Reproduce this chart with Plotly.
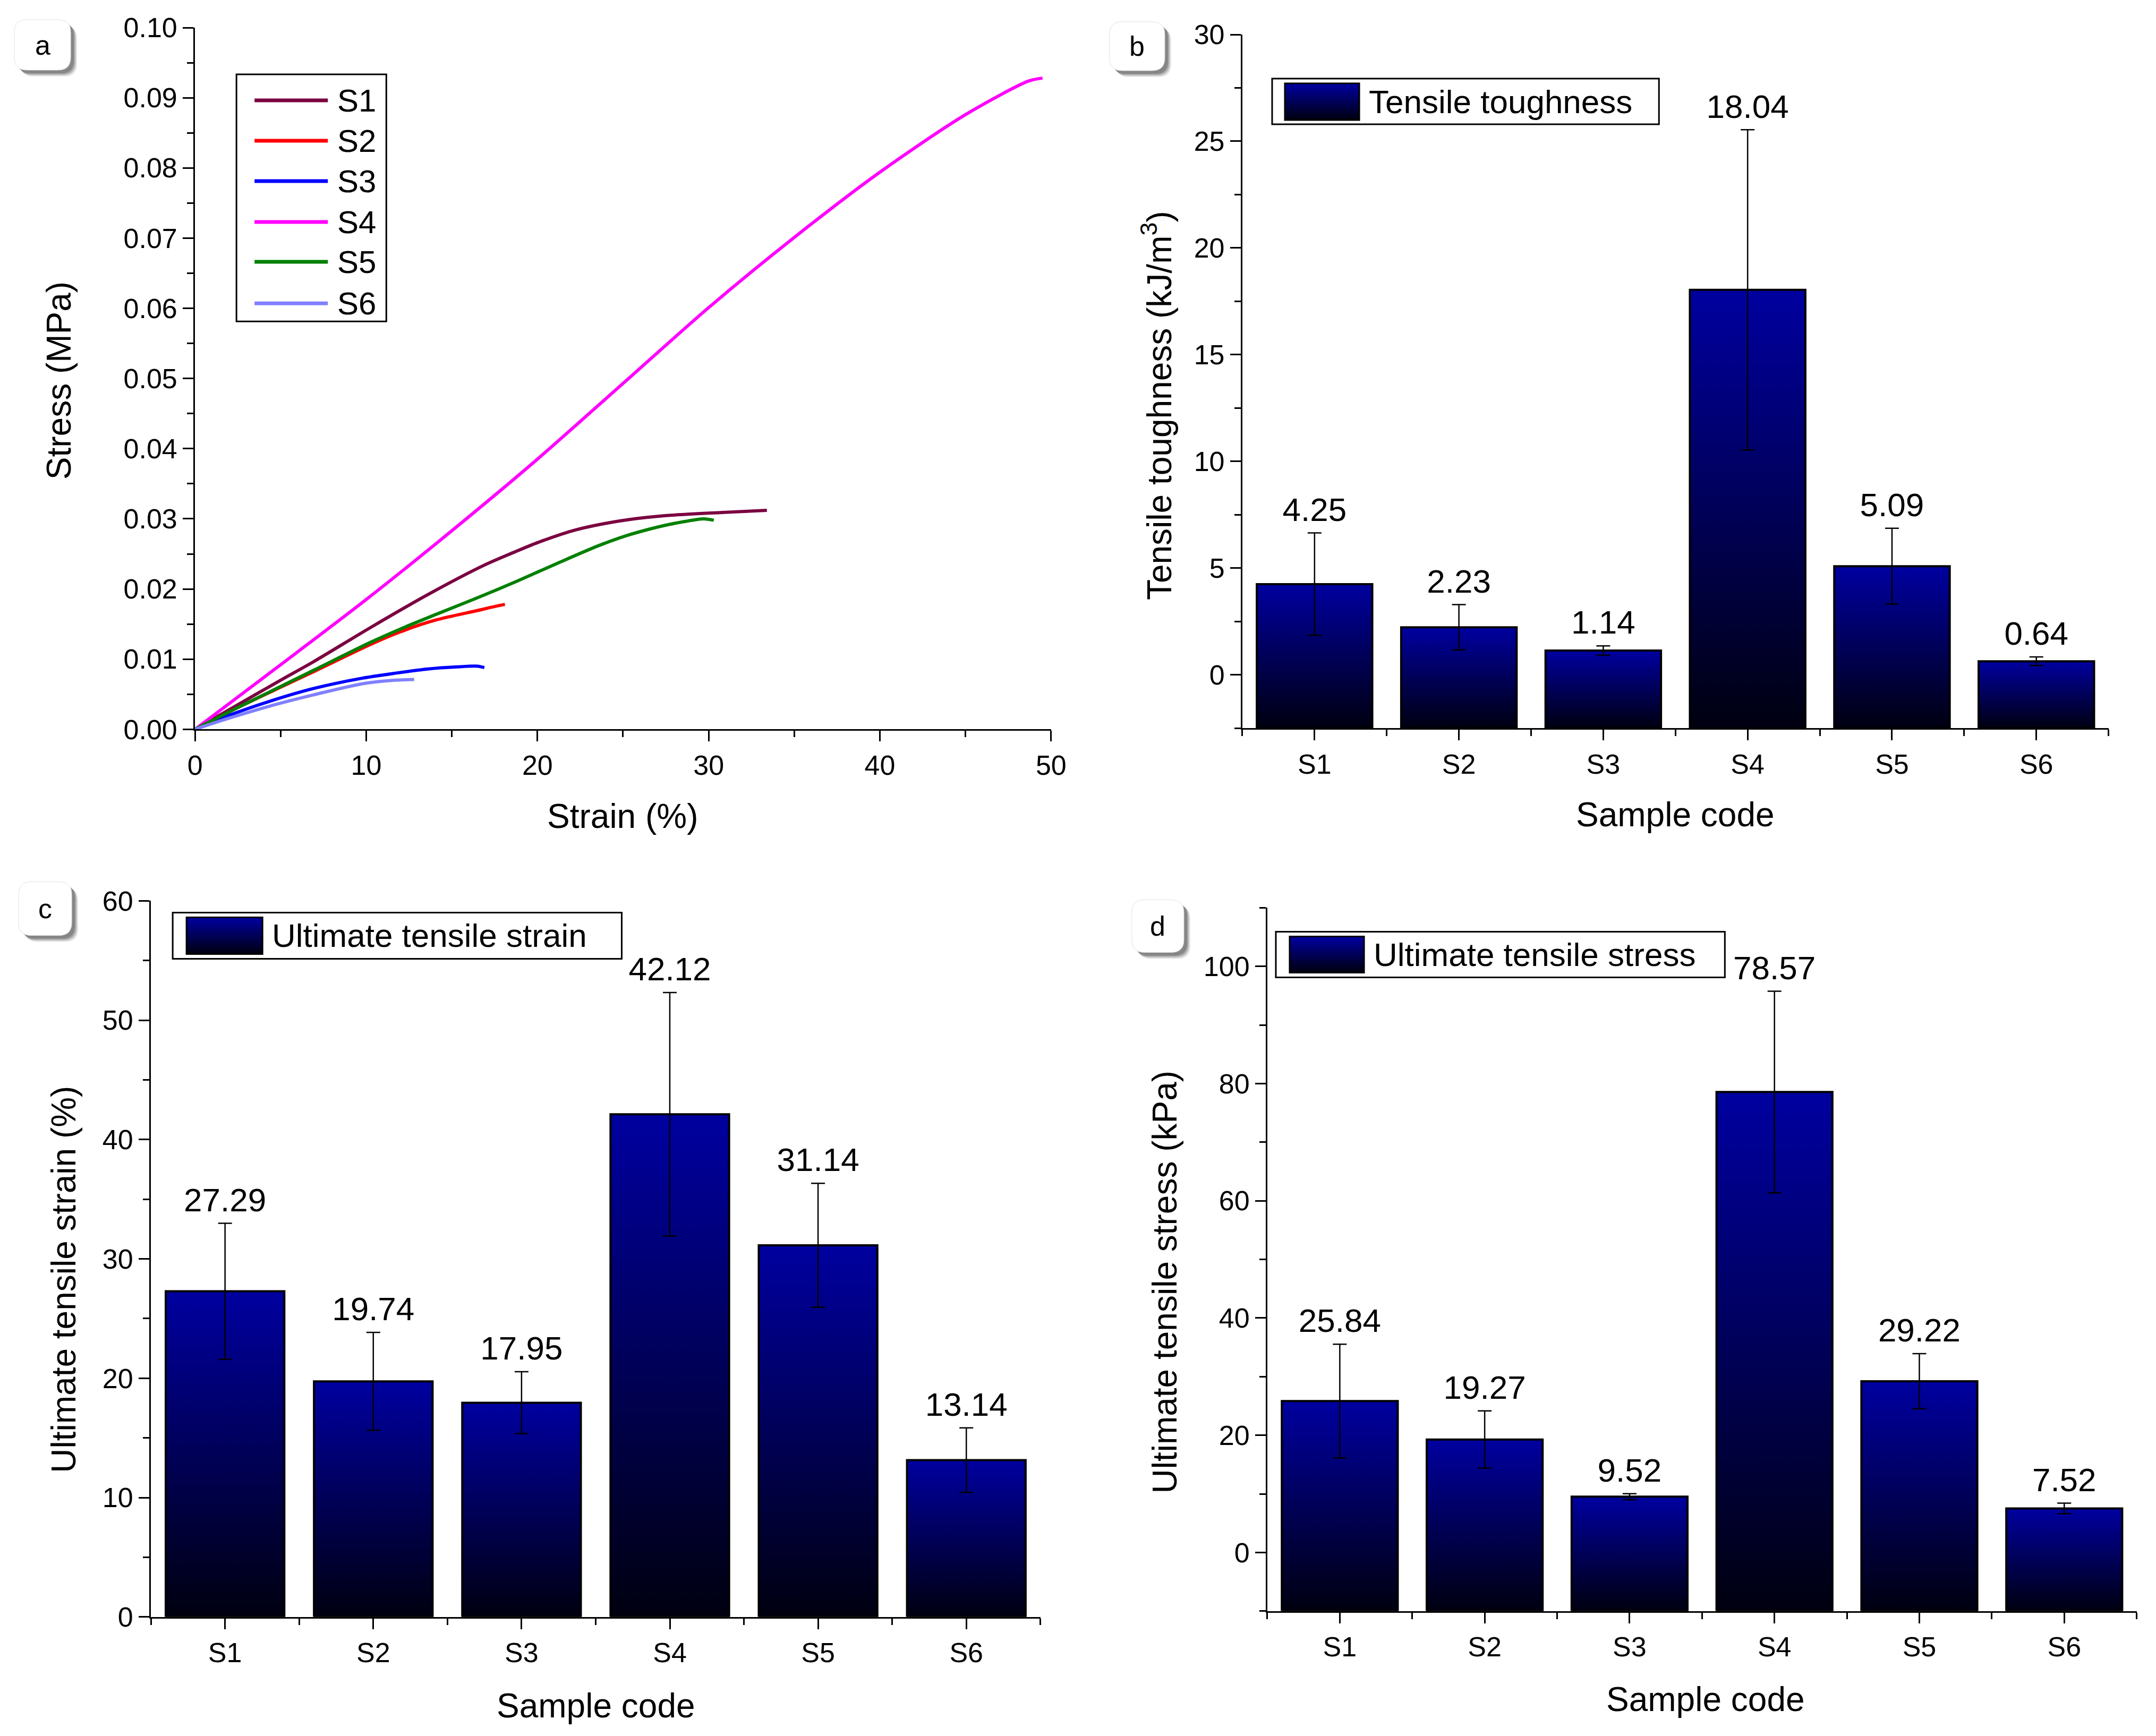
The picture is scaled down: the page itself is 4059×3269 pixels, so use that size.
import plotly.graph_objects as go

W, H = 4059, 3269
FONT = "Arial, Liberation Sans, sans-serif"

# ---------------- data: panel a (stress-strain curves) ----------------
s1_strain = [0, 2, 5, 6.9, 10.25, 13.6, 16.9, 18.6, 20.0, 22.2, 24.8, 27.2, 30.8, 33.4]
s1_stress = [0, 0.0028, 0.0070, 0.0096, 0.0145, 0.0192, 0.0234, 0.0252, 0.0266, 0.0284, 0.0297, 0.0304, 0.0309, 0.0312]
s2_strain = [0, 2, 5, 7, 10.25, 12, 14.1, 16.45, 17.5, 18.1]
s2_stress = [0, 0.0025, 0.0060, 0.0083, 0.0121, 0.0139, 0.0156, 0.0169, 0.0175, 0.0178]
s3_strain = [0, 2, 4.5, 6.9, 9.8, 11.7, 13.6, 15.3, 16.5, 16.9]
s3_stress = [0, 0.0020, 0.0041, 0.0058, 0.0073, 0.0080, 0.0086, 0.0089, 0.0090, 0.0088]
s4_strain = [0, 5, 10, 15, 20, 25, 30, 35, 40, 45, 48.7, 49.5]
s4_stress = [0, 0.0092, 0.0185, 0.0283, 0.0385, 0.0493, 0.0601, 0.0701, 0.0794, 0.0876, 0.0924, 0.0928]
s5_strain = [0, 2, 5, 7, 10.25, 12, 14.1, 16.45, 18.8, 21.2, 23.6, 25.2, 26.5, 27.7, 28.8, 29.7, 30.3]
s5_stress = [0, 0.0025, 0.0061, 0.0085, 0.0124, 0.0143, 0.0164, 0.0187, 0.0211, 0.0237, 0.0262, 0.0276, 0.0285, 0.0292, 0.0297, 0.0300, 0.0298]
s6_strain = [0, 2, 4.5, 6.9, 9.8, 11.7, 12.8]
s6_stress = [0, 0.0016, 0.0034, 0.0049, 0.0065, 0.0070, 0.0071]

curve_names = ["S1", "S2", "S3", "S4", "S5", "S6"]
curve_colors = ["#7B0041", "#FF0000", "#0000FF", "#FF00FF", "#008000", "#8080FF"]

# ---------------- data: bar panels ----------------
samples = ["S1", "S2", "S3", "S4", "S5", "S6"]
toughness = [4.25, 2.23, 1.14, 18.04, 5.09, 0.64]
toughness_err = [2.4, 1.06, 0.22, 7.5, 1.78, 0.2]
ult_strain = [27.29, 19.74, 17.95, 42.12, 31.14, 13.14]
ult_strain_err = [5.7, 4.1, 2.6, 10.2, 5.2, 2.7]
ult_stress = [25.84, 19.27, 9.52, 78.57, 29.22, 7.52]
ult_stress_err = [9.7, 4.9, 0.5, 17.2, 4.7, 0.9]

BAR_TOP = "#0000A0"
BAR_BOTTOM = "#000010"

# mapping from reference pixel positions to figure pixel positions
SX, OX = 0.989, 26.0
SY, OY = 0.982, 40.0


def pxx(x):
    return ((x - OX) / SX) / W


def pxy(y):
    return 1 - ((y - OY) / SY) / H


fig = go.Figure()

# ---------------- panel a ----------------
curves_x = [s1_strain, s2_strain, s3_strain, s4_strain, s5_strain, s6_strain]
curves_y = [s1_stress, s2_stress, s3_stress, s4_stress, s5_stress, s6_stress]
for name, col, xs, ys in zip(curve_names, curve_colors, curves_x, curves_y):
    fig.add_trace(go.Scatter(x=xs, y=ys, mode="lines", name=name,
                             line=dict(color=col, width=6, shape="spline", smoothing=0.8),
                             xaxis="x", yaxis="y", showlegend=False, hoverinfo="skip"))


# ---------------- bar panels ----------------
def add_bars(xa, ya, vals, errs, base):
    idx = list(range(1, len(vals) + 1))
    for i, v in zip(idx, vals):
        fig.add_trace(go.Scatter(
            x=[i - 0.4, i - 0.4, i + 0.4, i + 0.4, i - 0.4],
            y=[base, v, v, base, base],
            mode="lines", fill="toself",
            fillgradient=dict(type="vertical", colorscale=[[0, BAR_BOTTOM], [1, BAR_TOP]]),
            line=dict(color="black", width=4),
            xaxis=xa, yaxis=ya, showlegend=False, hoverinfo="skip"))
    fig.add_trace(go.Scatter(
        x=idx, y=vals, mode="markers",
        marker=dict(size=1, color="rgba(0,0,0,0)"),
        error_y=dict(type="data", array=errs, visible=True, color="black", thickness=2.5, width=13),
        xaxis=xa, yaxis=ya, showlegend=False, hoverinfo="skip"))
    fig.add_trace(go.Scatter(
        x=idx, y=[v + e for v, e in zip(vals, errs)], mode="markers+text",
        marker=dict(size=10, color="rgba(0,0,0,0)"),
        text=[f"{v:.2f}" for v in vals], textposition="top center",
        textfont=dict(size=62, color="black", family=FONT),
        xaxis=xa, yaxis=ya, showlegend=False, hoverinfo="skip", cliponaxis=False))


add_bars("x2", "y2", toughness, toughness_err, -2.5)
add_bars("x3", "y3", ult_strain, ult_strain_err, 0)
add_bars("x4", "y4", ult_stress, ult_stress_err, -10)

# ---------------- axes ----------------
common = dict(showline=True, linecolor="black", linewidth=3, ticks="outside", ticklen=20,
              tickwidth=3, tickcolor="black", showgrid=False, zeroline=False, mirror=False,
              tickfont=dict(size=52, color="black", family=FONT))


def lin_minor(d):
    return dict(dtick=d, ticks="outside", ticklen=12, tickwidth=3, tickcolor="black", showgrid=False)


cat_idx = list(range(1, len(samples) + 1))
cat_minor = dict(tickmode="array", tickvals=[i - 0.5 for i in cat_idx] + [len(samples) + 0.5],
                 ticks="outside", ticklen=12, tickwidth=3, tickcolor="black", showgrid=False)


def cat_axis(domain, anchor):
    return dict(common, domain=domain, anchor=anchor, range=[0.5, len(samples) + 0.5],
                tickmode="array", tickvals=cat_idx, ticktext=samples, minor=cat_minor)


layout = dict(
    width=W, height=H, margin=dict(l=0, r=0, t=0, b=0),
    paper_bgcolor="white", plot_bgcolor="white", showlegend=False,
    font=dict(family=FONT, color="black"),
    xaxis=dict(common, domain=[pxx(371), pxx(1982)], anchor="y", range=[0, 50],
               tick0=0, dtick=10, minor=lin_minor(5)),
    yaxis=dict(common, domain=[pxy(1376), pxy(55)], anchor="x", range=[0, 0.10],
               tick0=0, dtick=0.01, tickformat=".2f", minor=lin_minor(0.005)),
    xaxis2=cat_axis([pxx(2342), pxx(3972)], "y2"),
    yaxis2=dict(common, domain=[pxy(1374), pxy(68)], anchor="x2", range=[-2.5, 30],
                tick0=0, dtick=5, minor=dict(lin_minor(2.5), tick0=0)),
    xaxis3=cat_axis([pxx(288), pxx(1962)], "y3"),
    yaxis3=dict(common, domain=[pxy(3047), pxy(1699)], anchor="x3", range=[0, 60],
                tick0=0, dtick=10, minor=lin_minor(5)),
    xaxis4=cat_axis([pxx(2389), pxx(4025)], "y4"),
    yaxis4=dict(common, domain=[pxy(3036), pxy(1712)], anchor="x4", range=[-10, 110],
                tick0=0, dtick=20, minor=dict(lin_minor(10), tick0=0)),
)
fig.update_layout(**layout)

shapes = []
annotations = []


def text(x, y, s, size, angle=0, xanchor="center"):
    annotations.append(dict(x=pxx(x), y=pxy(y), xref="paper", yref="paper", text=s,
                            showarrow=False, textangle=angle, xanchor=xanchor, yanchor="middle",
                            font=dict(size=size, color="black", family=FONT)))


# axis titles
text(115, 720, "Stress (MPa)", 64, -90)
text(1176, 1540, "Strain (%)", 64)
text(2181, 766, "Tensile toughness (kJ/m<sup>3</sup>)", 64, -90)
text(3157, 1537, "Sample code", 64)
text(124, 2412, "Ultimate tensile strain (%)", 64, -90)
text(1126, 3214, "Sample code", 64)
text(2196, 2416, "Ultimate tensile stress (kPa)", 64, -90)
text(3214, 3202, "Sample code", 64)


def rect(x0, y0, x1, y1, fill="white", line="black", lw=3):
    shapes.append(dict(type="rect", xref="paper", yref="paper", x0=pxx(x0), x1=pxx(x1),
                       y0=pxy(y1), y1=pxy(y0), fillcolor=fill, line=dict(color=line, width=lw),
                       layer="above"))


# legend of panel a
rect(449, 143, 731, 608)
rows = [192, 268, 344, 421, 496, 574]
for name, col, ry in zip(curve_names, curve_colors, rows):
    shapes.append(dict(type="line", xref="paper", yref="paper", x0=pxx(483), x1=pxx(621),
                       y0=pxy(ry), y1=pxy(ry), line=dict(color=col, width=7), layer="above"))
    text(637, ry, name, 60, xanchor="left")


def bar_legend(box, sw, label):
    rect(*box)
    x0, y0, x1, y1 = sw
    n = 30
    top = (0x00, 0x00, 0xA0)
    bot = (0x00, 0x00, 0x10)
    for k in range(n):
        t = k / (n - 1)
        c = tuple(int(round(top[j] + (bot[j] - top[j]) * t)) for j in range(3))
        ya = y0 + (y1 - y0) * k / n
        yb = min(y1, y0 + (y1 - y0) * (k + 1) / n + 2)
        shapes.append(dict(type="rect", xref="paper", yref="paper", x0=pxx(x0), x1=pxx(x1),
                           y0=pxy(yb), y1=pxy(ya), fillcolor="rgb(%d,%d,%d)" % c,
                           line=dict(width=0), layer="above"))
    shapes.append(dict(type="rect", xref="paper", yref="paper", x0=pxx(x0), x1=pxx(x1),
                       y0=pxy(y1), y1=pxy(y0), fillcolor="rgba(0,0,0,0)",
                       line=dict(color="black", width=3), layer="above"))
    text(x1 + 16, (y0 + y1) / 2, label, 62, xanchor="left")


bar_legend((2398, 151, 3126, 237), (2422, 160, 2562, 229), "Tensile toughness")
bar_legend((329, 1721, 1174, 1808), (355, 1730, 498, 1799), "Ultimate tensile strain")
bar_legend((2405, 1757, 3250, 1843), (2431, 1766, 2571, 1834), "Ultimate tensile stress")


# panel letter boxes (rounded, with shadow)
def rr_path(x0, y0, x1, y1, r):
    pts = [("M", (x0 + r, y0)), ("L", (x1 - r, y0)), ("Q", (x1, y0), (x1, y0 + r)),
           ("L", (x1, y1 - r)), ("Q", (x1, y1), (x1 - r, y1)), ("L", (x0 + r, y1)),
           ("Q", (x0, y1), (x0, y1 - r)), ("L", (x0, y0 + r)), ("Q", (x0, y0), (x0 + r, y0))]
    out = []
    for item in pts:
        cmd = item[0]
        coords = " ".join("%.6f,%.6f" % (pxx(p[0]), pxy(p[1])) for p in item[1:])
        out.append(cmd + " " + coords)
    return " ".join(out) + " Z"


def letter_box(x0, y0, x1, y1, letter):
    for off, op in [(12, 0.12), (10, 0.18), (8, 0.24), (6, 0.3)]:
        shapes.append(dict(type="path", xref="paper", yref="paper",
                           path=rr_path(x0 + off, y0 + off, x1 + off, y1 + off, 24),
                           fillcolor="rgba(60,60,60,%.2f)" % op, line=dict(width=0), layer="above"))
    shapes.append(dict(type="path", xref="paper", yref="paper", path=rr_path(x0, y0, x1, y1, 24),
                       fillcolor="white", line=dict(color="rgb(225,225,225)", width=1), layer="above"))
    text((x0 + x1) / 2, (y0 + y1) / 2, letter, 52)


letter_box(31, 40, 137, 135, "a")
letter_box(2092, 44, 2196, 136, "b")
letter_box(39, 1663, 139, 1764, "c")
letter_box(2134, 1697, 2232, 1796, "d")

fig.update_layout(shapes=shapes, annotations=annotations)
fig.write_html("out.html")
